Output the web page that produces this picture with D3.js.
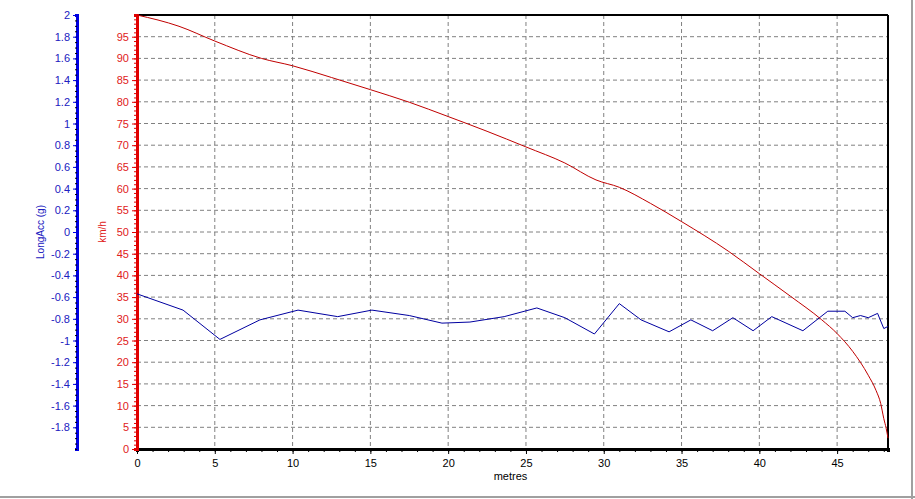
<!DOCTYPE html>
<html><head><meta charset="utf-8">
<script src="https://cdn.jsdelivr.net/npm/d3@7"></script>
<style>body{margin:0;background:#fff}svg{display:block}text{font-family:Arial,"Liberation Sans",sans-serif}</style>
</head><body><svg id="c" width="915" height="499"></svg>
<script>
const accX=[0,2.96,5.33,7.9,10.35,12.9,15.1,17.5,19.6,21.4,23.6,25.7,27.5,29.4,31.0,32.4,34.2,35.6,37.0,38.3,39.6,40.8,42.8,44.4,45.5,46.0,46.5,47.0,47.6,48.0,48.27];
const accG=[-0.57,-0.72,-0.99,-0.81,-0.72,-0.78,-0.72,-0.77,-0.84,-0.83,-0.78,-0.70,-0.79,-0.94,-0.66,-0.81,-0.92,-0.81,-0.91,-0.79,-0.91,-0.78,-0.91,-0.73,-0.73,-0.79,-0.77,-0.79,-0.75,-0.89,-0.87];
const spdX=[0,2.7,5,8,10,12.5,15,17.5,20,22.5,25,27.5,29.5,31,33,35,38,40,42,44,45,46,47,47.5,47.8,48.0,48.15,48.27];
const spdV=[100,97.4,94,90,88.3,85.6,82.8,79.9,76.6,73.2,69.6,65.9,62,60.3,56.6,52.4,45.6,40.4,35.2,29.8,26.6,22.5,17,13.5,10.5,7,4.8,2.5];
const xTicks=[0,5,10,15,20,25,30,35,40,45];
const svg=d3.select("#c");
const L=137,R=888,T=15,B=449;
const x=d3.scaleLinear().domain([0,48.27]).range([L,R]);
const yS=d3.scaleLinear().domain([0,100]).range([B,T]);
const yA=d3.scaleLinear().domain([-2,2]).range([B,T]);
svg.append("line").attr("x1",0).attr("x2",915).attr("y1",497).attr("y2",497).attr("stroke","#a0a0a0").attr("stroke-width",2);
svg.append("line").attr("x1",912).attr("x2",912).attr("y1",0).attr("y2",499).attr("stroke","#a0a0a0").attr("stroke-width",2);
const g=svg.append("g").attr("stroke","#808080").attr("stroke-dasharray","4,3");
xTicks.slice(1).forEach(t=>g.append("line").attr("x1",x(t)).attr("x2",x(t)).attr("y1",T).attr("y2",B));
d3.range(5,100,5).forEach(t=>g.append("line").attr("x1",L).attr("x2",R).attr("y1",yS(t)).attr("y2",yS(t)));
svg.append("line").attr("x1",L).attr("x2",R).attr("y1",T).attr("y2",T).attr("stroke","#000").attr("stroke-width",2);
svg.append("line").attr("x1",R).attr("x2",R).attr("y1",T).attr("y2",B).attr("stroke","#000").attr("stroke-width",2);
const xa=svg.append("g").attr("transform",`translate(0,${B})`).call(d3.axisBottom(x).tickValues(d3.range(0,48.3,1)).tickSize(3).tickFormat(""));
xa.select(".domain").attr("stroke","#000").attr("stroke-width",3);
const xa2=svg.append("g").attr("transform",`translate(0,${B})`).call(d3.axisBottom(x).tickValues(xTicks).tickSize(5).tickFormat(d3.format("d")));
xa2.select(".domain").remove();
xa2.selectAll("text").attr("font-size",11).attr("fill","#000").attr("dy","0.9em");
svg.append("text").attr("x",(L+R)/2-2).attr("y",480).attr("text-anchor","middle").attr("font-size",11).text("metres");
const sa=svg.append("g").attr("transform",`translate(${L},0)`).call(d3.axisLeft(yS).tickValues(d3.range(0,100,1)).tickSize(3).tickFormat(""));
sa.selectAll("line").attr("stroke","#e00000");
sa.select(".domain").attr("stroke","#e00000").attr("stroke-width",3);
const sa2=svg.append("g").attr("transform",`translate(${L},0)`).call(d3.axisLeft(yS).tickValues(d3.range(0,100,5)).tickSize(5));
sa2.select(".domain").remove();
sa2.selectAll("line").attr("stroke","#e00000");
sa2.selectAll("text").attr("fill","#e02020").attr("font-size",11);
svg.append("text").attr("transform","translate(106,232) rotate(-90)").attr("text-anchor","middle").attr("font-size",10).attr("fill","#e02020").text("km/h");
const AX=77;
const aa=svg.append("g").attr("transform",`translate(${AX},0)`).call(d3.axisLeft(yA).tickValues(d3.range(-2,2.001,0.05)).tickSize(2).tickFormat(""));
aa.selectAll("line").attr("stroke","#000");
aa.select(".domain").attr("stroke","#0000e0").attr("stroke-width",3);
const aa2=svg.append("g").attr("transform",`translate(${AX},0)`).call(d3.axisLeft(yA).tickValues(d3.range(-9,11).map(d=>d/5)).tickSize(4).tickFormat(d=>Math.abs(d)<1e-9?"0":String(+d.toFixed(1))));
aa2.select(".domain").remove();
aa2.selectAll("line").attr("stroke","#0000e0");
aa2.selectAll("text").attr("fill","#2020c0").attr("font-size",11);
svg.append("text").attr("transform","translate(44,232) rotate(-90)").attr("text-anchor","middle").attr("font-size",10).attr("fill","#2020c0").text("LongAcc (g)");
svg.append("path").datum(accX.map((d,i)=>[d,accG[i]])).attr("fill","none").attr("stroke","#0000a0").attr("stroke-width",1)
 .attr("d",d3.line().x(d=>x(d[0])).y(d=>yA(d[1])));
svg.append("path").datum(spdX.map((d,i)=>[d,spdV[i]])).attr("fill","none").attr("stroke","#c00000").attr("stroke-width",1)
 .attr("d",d3.line().curve(d3.curveMonotoneX).x(d=>x(d[0])).y(d=>yS(d[1])));
</script></body></html>
